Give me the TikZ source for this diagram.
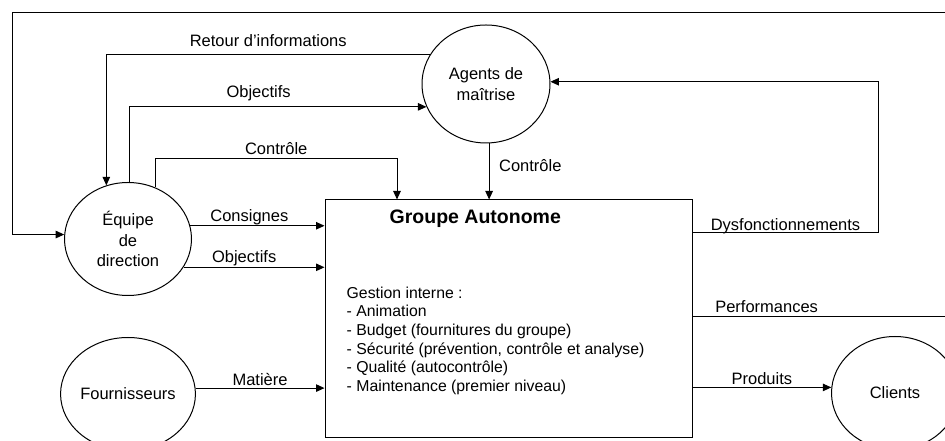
\documentclass[tikz,border=0pt]{standalone}
\usepackage{fontspec}
\setmainfont{Liberation Sans}
\usetikzlibrary{positioning, arrows.meta, shapes.geometric}

\begin{document}
\begin{tikzpicture}[
    x=1pt, y=1pt,
    font=\fontsize{16.5}{20.5}\selectfont, % labels of the flows
    every node/.style={align=left},
    box/.style={draw, line width=1pt, minimum width=367pt, minimum height=238pt, inner sep=0pt},
    bubble/.style={draw, ellipse, line width=1pt, minimum width=127pt, minimum height=113pt, inner sep=0pt, align=center},
    arrow/.style={-{Triangle[length=8.5pt, width=7.5pt]}, line width=1pt},
    lbl/.style={inner sep=1.5pt, text depth=0pt}
]
\useasboundingbox (0,0) rectangle (945,441);

% autonomous group
\node[box] (groupe) at (508.5,122) {};
\node[inner sep=0pt, font=\bfseries\fontsize{19.5}{23}\selectfont, below right=10pt and 65pt of groupe.north west] (titre) {Groupe Autonome};
\node[inner sep=0pt, font=\fontsize{15.8}{18.7}\selectfont, below right=87pt and 22pt of groupe.north west] (gestion) {
    Gestion interne :\\
    - Animation\\
    - Budget (fournitures du groupe)\\
    - Sécurité (prévention, contrôle et analyse)\\
    - Qualité (autocontrôle)\\
    - Maintenance (premier niveau)
};

% actors
\node[bubble] (equipe) at (128,202) {Équipe\\de\\direction};
\node[bubble, below=41pt of equipe] (fournisseurs) {Fournisseurs};
\node[bubble, minimum width=128pt, minimum height=118pt] (agents) at (486,357) {Agents de\\maîtrise};
\node[bubble] (clients) at (895,48) {Clients};

% flows between management and supervisors
\coordinate (ctrl) at ([xshift=-111.5pt, yshift=41pt]groupe.north);
\draw[arrow] (agents.152.5) -| node[lbl, pos=0.25, above=5.5pt] (l-retour) {Retour d'informations} (equipe.112.4);
\draw[arrow] (equipe.88) |- node[lbl, pos=0.717, above=7pt] (l-obj1) {Objectifs} (agents.201.3);
\draw[arrow] (equipe.62.4) |- node[lbl, pos=0.75, above=2pt] (l-ctrl1) {Contrôle} (ctrl) -- (ctrl |- groupe.north);
\draw[arrow] (agents.-87) -- node[lbl, pos=0.4, right=8pt] (l-ctrl2) {Contrôle} (agents.-87 |- groupe.north);

% flows into the group
\draw[arrow] (equipe.12.8) -- node[lbl, pos=0.44, above=2pt] (l-cons) {Consignes} (equipe.12.8 -| groupe.west);
\draw[arrow] (equipe.-27.9) -- node[lbl, pos=0.43, above=3pt] (l-obj2) {Objectifs} (equipe.-27.9 -| groupe.west);
\draw[arrow] (fournisseurs.5) -- node[lbl, above=1pt] (l-mat) {Matière} (fournisseurs.5 -| groupe.west);

% flows out of the group
\draw[arrow] ([yshift=86pt]groupe.east) -- node[lbl, above] (l-dysf) {Dysfonctionnements} ++(186,0) |- (agents.2);
\draw[arrow] (clients.175 -| groupe.east) -- node[lbl, above=1pt] (l-prod) {Produits} (clients.175);
\coordinate (coin) at (12,428);
\draw[arrow] ([yshift=2pt]groupe.east) -- node[lbl, pos=0.285, above=2.5pt] (l-perf) {Performances} ++(260,0) |- (coin) |- (equipe.176.4);
\end{tikzpicture}
\end{document}
